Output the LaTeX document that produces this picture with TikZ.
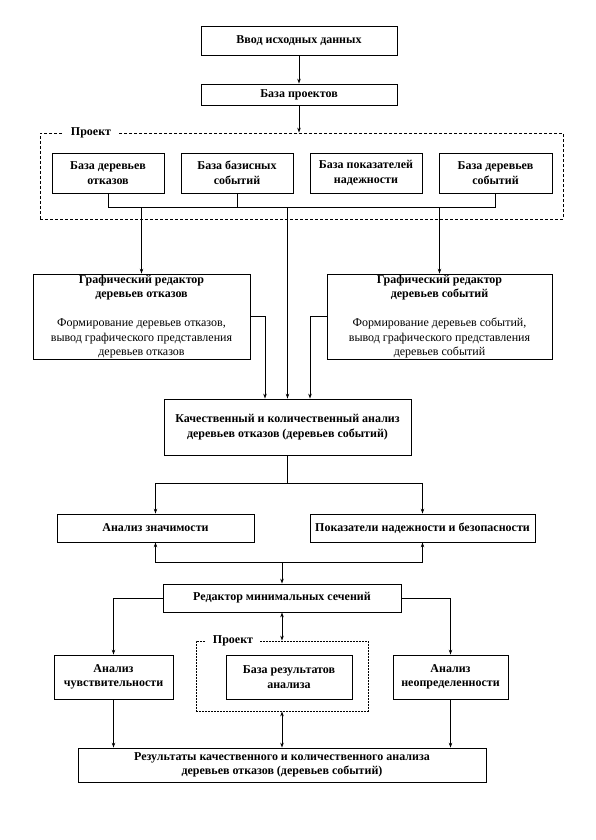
\documentclass[tikz,border=0pt]{standalone}
\usepackage{fontspec}
\setmainfont{Liberation Serif}
\usetikzlibrary{arrows.meta}
\newcommand\myfs{\fontsize{12}{14.5}\selectfont}
\begin{document}
\begin{tikzpicture}[x=1pt,y=-1pt,
  box/.style={draw,line width=0.8pt,inner sep=0pt,align=center,font=\myfs\bfseries},
  ln/.style={line width=0.8pt},
  arr/.style={ln,-{Stealth[length=5pt,width=3.5pt]}},
  darr/.style={ln,{Stealth[length=5pt,width=3.5pt]}-{Stealth[length=5pt,width=3.5pt]}},
  frameA/.style={draw,line width=0.8pt,dash pattern=on 3pt off 2pt,inner sep=0pt},
  frameB/.style={draw,line width=0.8pt,dash pattern=on 2pt off 1pt,inner sep=0pt},
  lbl/.style={fill=white,inner xsep=7pt,inner ysep=1pt,font=\myfs\bfseries}
]
\useasboundingbox (0,0) rectangle (595,840);
\fill[white] (0,0) rectangle (595,840);

\node[box,minimum width=196,minimum height=29] (in) at (299,40.5) {Ввод исходных данных};
\node[box,minimum width=196,minimum height=21] (pb) at (299,94.5) {База проектов};

\node[frameA,minimum width=523,minimum height=86] (pr1) at (301.5,176) {};
\node[lbl] (pr1l) at (91,133) {Проект};

\node[box,minimum width=112,minimum height=40] (A) at (108,173) {База деревьев\\отказов};
\node[box,minimum width=112,minimum height=40] (B) at (237,173) {База базисных\\событий};
\node[box,minimum width=112,minimum height=40] (C) at (366,173) {База показателей\\надежности};
\node[box,minimum width=113,minimum height=40] (D) at (495.5,173) {База деревьев\\событий};
\coordinate (bus) at (0,207);

\node[box,minimum width=217,minimum height=85] (ge1) at (141.5,316.5) {Графический редактор\\деревьев отказов\\[14.5pt]\mdseries Формирование деревьев отказов,\\\mdseries вывод графического представления\\\mdseries деревьев отказов};
\node[box,minimum width=225,minimum height=85] (ge2) at (439.5,316.5) {Графический редактор\\деревьев событий\\[14.5pt]\mdseries Формирование деревьев событий,\\\mdseries вывод графического представления\\\mdseries деревьев событий};

\node[box,minimum width=247,minimum height=56] (qa) at (287.5,427) {Качественный и количественный анализ\\деревьев отказов (деревьев событий)};

\node[box,minimum width=197,minimum height=28] (as) at (155.5,528) {Анализ значимости};
\node[box,minimum width=225,minimum height=28] (pn) at (422.5,528) {Показатели надежности и безопасности};

\node[box,minimum width=238,minimum height=28] (med) at (282,598) {Редактор минимальных сечений};
\coordinate (j2) at (282,562);

\node[box,minimum width=119,minimum height=44] (sens) at (113.5,677) {Анализ\\чувствительности};
\node[box,minimum width=115,minimum height=44] (unc) at (450.5,677) {Анализ\\неопределенности};

\node[frameB,minimum width=172,minimum height=70] (pr2) at (282,676) {};
\node[lbl] (pr2l) at (233,641) {Проект};
\node[box,minimum width=126,minimum height=44] (br) at (289,677) {База результатов\\анализа};

\node[box,minimum width=408,minimum height=34] (res) at (282,765) {Результаты качественного и количественного анализа\\деревьев отказов (деревьев событий)};

% connectors
\draw[arr] (in) -- (pb);
\draw[arr] (pb) -- (pb.south|-pr1.north);
\draw[ln] (A.south) -- (A.south|-bus) -- (D.south|-bus) -- (D.south);
\draw[ln] (B.south) -- (B.south|-bus);
\draw[arr] (ge1.north|-bus) -- (ge1.north);
\draw[arr] (ge2.north|-bus) -- (ge2.north);
\draw[arr] (qa.north|-bus) -- (qa.north);
\draw[arr] (ge1.east) -| ([xshift=-22.5pt]qa.north);
\draw[arr] (ge2.west) -| ([xshift=22.5pt]qa.north);
\draw[arr] (qa.south) -- ++(0,28) -| (as.north);
\draw[arr] (qa.south) -- ++(0,28) -| (pn.north);
\draw[arr] (j2) -| (as.south);
\draw[arr] (j2) -| (pn.south);
\draw[arr] (j2) -- (med.north);
\draw[arr] (med.west) -| (sens.north);
\draw[arr] (med.east) -| (unc.north);
\draw[darr] (med.south) -- (pr2.north);
\draw[darr] (pr2.south) -- (res.north);
\draw[arr] (sens.south) -- (sens.south|-res.north);
\draw[arr] (unc.south) -- (unc.south|-res.north);
\end{tikzpicture}
\end{document}
